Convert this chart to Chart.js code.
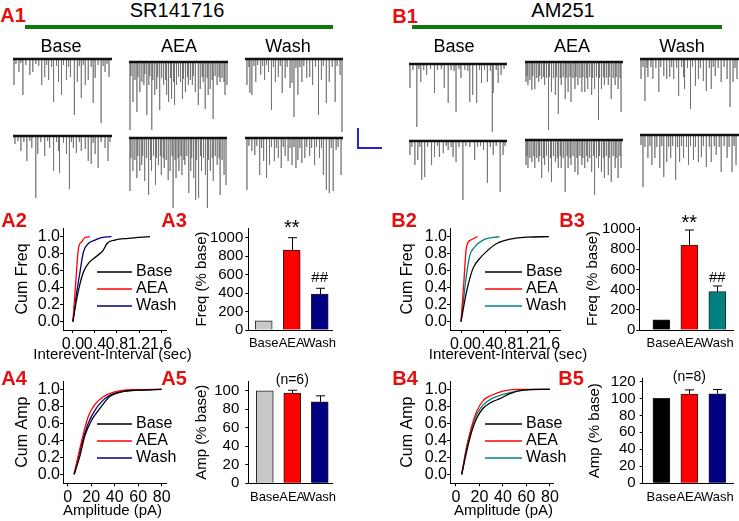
<!DOCTYPE html>
<html>
<head>
<meta charset="utf-8">
<script src="https://cdn.jsdelivr.net/npm/chart.js@4.4.1/dist/chart.umd.min.js"></script>
<style>
  body { margin: 0; background: #fff; }
  #page { position: relative; width: 739px; height: 521px; overflow: hidden; font-family: "Liberation Sans", Arial, sans-serif; }
  #page canvas { position: absolute; }
  .txt { position: absolute; white-space: nowrap; transform: translate(-50%, -50%); line-height: 1; color: #000; z-index: 2; }
  .lbl { color: #e41010; font-weight: bold; font-size: 20px; }
  .ttl { font-size: 20px; }
  .col { font-size: 18px; }
  .green { position: absolute; height: 4px; background: #0b7a0b; }
  .sbar { position: absolute; background: #2323dd; }
</style>
</head>
<body>
<div id="page">
  <div class="txt lbl" style="left:13px;top:15px">A1</div>
  <div class="txt lbl" style="left:405px;top:16px">B1</div>
  <div class="txt lbl" style="left:14px;top:220px">A2</div>
  <div class="txt lbl" style="left:174px;top:220px">A3</div>
  <div class="txt lbl" style="left:14px;top:378px">A4</div>
  <div class="txt lbl" style="left:174px;top:378px">A5</div>
  <div class="txt lbl" style="left:404px;top:220px">B2</div>
  <div class="txt lbl" style="left:572px;top:220px">B3</div>
  <div class="txt lbl" style="left:405px;top:378px">B4</div>
  <div class="txt lbl" style="left:571px;top:378px">B5</div>

  <div class="txt ttl" style="left:177px;top:10px">SR141716</div>
  <div class="txt ttl" style="left:563px;top:10px">AM251</div>
  <div class="green" style="left:25px;top:25px;width:308px"></div>
  <div class="green" style="left:412px;top:25px;width:310px"></div>

  <div class="txt col" style="left:61px;top:46px">Base</div>
  <div class="txt col" style="left:179px;top:46px">AEA</div>
  <div class="txt col" style="left:288px;top:46px">Wash</div>
  <div class="txt col" style="left:454px;top:46px">Base</div>
  <div class="txt col" style="left:572px;top:46px">AEA</div>
  <div class="txt col" style="left:682px;top:46px">Wash</div>

  <!-- scale bar -->
  <div class="sbar" style="left:357px;top:128px;width:2px;height:21px"></div>
  <div class="sbar" style="left:357px;top:147px;width:25px;height:2px"></div>
</div>

<script>
// Traces: [position in % of trace width, event amplitude in px below baseline]
const aBaseTop = [[1,26],[3,5],[6,13],[8,4],[10,36],[13,6],[17,16],[20,13],[23,5],[26,7],[29,26],[32,18],[34,6],[36,21],[39,8],[41,43],[44,7],[46,23],[49,36],[51,6],[54,21],[56,8],[58,18],[62,56],[65,23],[67,7],[69,39],[71,6],[73,26],[76,21],[79,8],[81,44],[83,19],[86,6],[89,64],[91,7],[93,13],[95,5],[97,18]];
const aAeaTop = [[1,68],[2,14],[4,40],[6,18],[8,50],[9,15],[11,30],[13,20],[15,23],[16,12],[18,53],[20,23],[21,14],[23,68],[24,18],[26,33],[28,27],[29,15],[31,48],[33,16],[35,23],[37,18],[38,33],[40,40],[42,16],[43,37],[45,20],[46,43],[48,23],[50,15],[52,20],[54,37],[55,17],[57,30],[59,15],[60,23],[62,18],[64,23],[65,14],[67,30],[70,43],[72,27],[74,15],[75,20],[77,47],[79,16],[80,33],[82,27],[84,18],[85,57],[87,14],[89,23],[91,15],[92,20],[94,16],[96,20],[97,33],[99,23]];
const aWashTop = [[2,26],[4,8],[5,34],[7,36],[9,7],[11,23],[13,6],[16,16],[18,7],[20,21],[22,6],[24,13],[27,51],[29,8],[31,23],[34,18],[36,7],[38,34],[41,19],[43,8],[46,29],[48,24],[50,58],[52,9],[54,36],[56,8],[58,23],[60,7],[63,19],[66,18],[69,26],[72,8],[75,56],[78,21],[80,7],[83,44],[86,23],[89,8],[92,43],[94,7],[97,16],[99,73]];
const aBaseBot = [[2,8],[5,5],[8,15],[11,6],[14,25],[17,5],[19,12],[23,62],[25,18],[28,6],[32,20],[35,5],[37,12],[41,35],[44,6],[46,15],[47,37],[51,7],[54,18],[57,53],[59,6],[61,12],[64,17],[67,6],[69,15],[73,13],[76,25],[79,28],[81,7],[83,18],[86,32],[89,6],[93,12],[96,25],[98,6]];
const aAeaBot = [[1,53],[2,20],[4,33],[6,22],[8,40],[9,18],[11,33],[13,27],[14,18],[16,43],[18,20],[20,57],[22,22],[23,33],[25,18],[27,47],[28,20],[30,27],[32,18],[33,37],[35,20],[36,30],[38,22],[40,42],[42,33],[44,18],[45,70],[47,22],[48,40],[50,20],[51,33],[53,18],[54,37],[56,22],[57,27],[59,18],[61,55],[63,33],[64,20],[66,40],[68,62],[69,22],[71,60],[73,18],[74,33],[76,20],[78,37],[80,70],[81,22],[83,33],[85,20],[86,43],[88,18],[90,27],[92,20],[93,57],[95,22],[97,37],[99,47]];
const aWashBot = [[2,52],[4,8],[7,13],[10,17],[12,8],[15,37],[17,10],[19,23],[22,40],[25,27],[27,9],[30,23],[32,10],[34,20],[37,30],[39,9],[41,18],[44,23],[46,10],[48,27],[50,9],[52,30],[54,22],[56,10],[58,25],[61,20],[63,9],[66,18],[68,10],[71,27],[73,9],[76,20],[78,10],[80,37],[83,52],[86,55],[88,10],[90,53],[93,12],[95,9],[98,37]];
const bBaseTop = [[1,24],[4,6],[8,63],[10,5],[12,18],[15,6],[18,11],[22,5],[26,29],[29,6],[33,5],[36,24],[40,39],[43,6],[46,7],[48,48],[51,5],[53,14],[57,6],[60,7],[62,38],[65,31],[69,39],[72,6],[74,19],[77,6],[80,18],[83,7],[85,68],[86,29],[89,6],[91,19],[94,11],[97,5]];
const bAeaTop = [[1,20],[2,14],[3,23],[5,18],[7,28],[8,14],[10,27],[12,16],[14,20],[15,14],[17,17],[19,15],[20,23],[22,16],[24,68],[25,15],[27,30],[29,16],[31,33],[32,15],[34,52],[36,16],[37,23],[39,15],[41,37],[42,16],[44,30],[46,15],[47,40],[49,16],[51,27],[52,15],[54,23],[56,16],[58,30],[59,15],[61,30],[63,16],[64,27],[66,15],[68,33],[69,16],[71,27],[73,15],[75,58],[76,16],[78,27],[80,15],[81,23],[83,16],[85,23],[86,15],[88,37],[90,16],[92,23],[93,15],[95,27],[97,16],[98,50]];
const bWashTop = [[1,20],[3,8],[5,42],[7,9],[8,18],[11,8],[13,20],[16,9],[19,33],[21,8],[24,17],[27,20],[30,18],[32,8],[34,20],[37,9],[39,37],[42,8],[44,18],[45,30],[48,9],[51,50],[53,8],[56,27],[59,20],[61,9],[64,22],[67,32],[70,9],[72,30],[74,8],[76,17],[79,9],[82,23],[85,8],[88,20],[91,48],[94,23],[96,9],[98,20]];
const bBaseBot = [[1,14],[3,6],[6,24],[9,19],[11,6],[13,39],[16,36],[19,6],[23,24],[26,16],[29,5],[31,16],[35,12],[38,5],[40,9],[43,6],[45,16],[48,21],[51,6],[55,59],[58,5],[62,6],[67,19],[70,6],[73,5],[76,9],[80,42],[83,6],[86,14],[89,5],[93,51],[96,14],[98,5]];
const bAeaBot = [[1,25],[2,16],[3,28],[5,18],[7,22],[9,16],[10,28],[12,18],[14,22],[15,16],[17,38],[19,18],[20,25],[22,16],[24,32],[26,18],[27,42],[29,16],[31,22],[33,18],[34,28],[36,16],[37,28],[39,18],[41,52],[43,16],[44,28],[46,18],[47,25],[49,16],[51,32],[53,18],[54,35],[56,16],[58,25],[59,18],[61,28],[63,16],[64,22],[66,18],[68,32],[70,16],[71,55],[73,18],[75,28],[76,16],[78,32],[80,18],[81,38],[83,16],[85,35],[86,18],[88,42],[90,16],[92,28],[93,18],[95,38],[97,16],[98,28]];
const bWashBot = [[1,10],[3,52],[5,12],[8,23],[10,11],[12,30],[15,23],[17,12],[20,33],[22,11],[24,42],[27,27],[29,12],[31,23],[33,11],[36,45],[38,12],[40,27],[42,11],[44,23],[47,12],[49,30],[51,11],[54,25],[56,12],[59,27],[62,22],[64,11],[67,32],[70,12],[72,27],[75,11],[77,20],[80,12],[82,37],[85,11],[88,23],[90,12],[93,37],[95,11],[97,30]];

// Cumulative distributions: [x, cumulative fraction]
const a2Base = [[0,0],[0.05,0.2],[0.13,0.45],[0.2,0.6],[0.3,0.7],[0.43,0.77],[0.55,0.84],[0.62,0.92],[0.76,0.96],[1.0,0.98],[1.4,1.0]];
const a2Aea = [[0,0],[0.05,0.45],[0.1,0.86],[0.16,0.94],[0.22,0.99],[0.31,1.0]];
const a2Wash = [[0,0],[0.07,0.35],[0.13,0.59],[0.19,0.82],[0.28,0.92],[0.4,0.96],[0.52,0.99],[0.7,1.0]];
const b2Base = [[0,0],[0.1,0.35],[0.22,0.63],[0.35,0.75],[0.47,0.83],[0.65,0.92],[0.89,0.97],[1.2,0.995],[1.6,1.0]];
const b2Aea = [[0,0],[0.05,0.45],[0.1,0.88],[0.18,0.96],[0.3,1.0]];
const b2Wash = [[0,0],[0.1,0.55],[0.16,0.78],[0.25,0.88],[0.4,0.96],[0.7,1.0]];
const a4Base = [[5.5,0],[10.5,0.22],[14.5,0.45],[20.5,0.64],[26,0.75],[31.5,0.85],[36,0.92],[45.5,0.97],[59,0.99],[80,1.0]];
const a4Aea = [[5.5,0],[12,0.4],[17.5,0.68],[23,0.82],[30,0.91],[40,0.97],[55,0.995],[80,1.0]];
const a4Wash = [[5.5,0],[12,0.36],[17.5,0.6],[23,0.75],[30,0.87],[36,0.93],[45.5,0.97],[60,0.99],[80,1.0]];
const b4Base = [[4.9,0],[9.1,0.27],[13.3,0.5],[17.6,0.66],[23.3,0.78],[30.4,0.85],[37.4,0.89],[46,0.95],[57.3,0.99],[80,1.0]];
const b4Aea = [[4.9,0],[9.1,0.31],[13.3,0.56],[17.6,0.74],[23.3,0.87],[30.4,0.93],[40,0.98],[51.4,1.0],[80,1.0]];
const b4Wash = [[4.9,0],[9.1,0.33],[13.3,0.54],[17.6,0.7],[23.3,0.82],[30.4,0.89],[40,0.94],[51.4,0.98],[65.5,1.0],[80,1.0]];

// Bars (% of baseline) and SEM
const barCats = ["Base", "AEA", "Wash"];
const a3Freq = [100, 867, 390];
const a3Err = [0, 133, 62];
const b3Freq = [100, 842, 380];
const b3Err = [0, 148, 56];
const a5Amp = [100, 97.5, 88];
const a5Err = [0, 3, 6.5];
const b5Amp = [100, 105, 105.5];
const b5Err = [0, 5, 5];

// Tick labels
const cumTicks = [0, 0.2, 0.4, 0.6, 0.8, 1.0];
const iviTicks = [0, 0.4, 0.8, 1.2, 1.6];
const ampTicks = [0, 20, 40, 60, 80];
const freqTicks = [0, 200, 400, 600, 800, 1000];
const a5Ticks = [0, 20, 40, 60, 80, 100];
const b5Ticks = [0, 20, 40, 60, 80, 100, 120];

Chart.defaults.font.family = '"Liberation Sans", Arial, sans-serif';
Chart.defaults.color = "#000";

const page = document.getElementById("page");
const addCanvas = (x, y, w, h) => {
  const c = document.createElement("canvas");
  c.width = w;
  c.height = h;
  c.style.left = x + "px";
  c.style.top = y + "px";
  c.style.width = w + "px";
  c.style.height = h + "px";
  page.appendChild(c);
  return c;
};

// one chart per trace, baseline on top of the spikes
const traceChart = (ev, x0, x1, base) => {
  const spikes = [];
  ev.forEach(([p, a]) => spikes.push({ x: p, y: 0 }, { x: p, y: -a }, { x: p, y: null }));
  new Chart(addCanvas(x0, base - 6, x1 - x0, 80), {
    type: "line",
    data: {
      datasets: [
        { data: [{ x: 0, y: 0 }, { x: 100, y: 0 }], borderColor: "#111", borderWidth: 2.5, pointRadius: 0, order: 1 },
        { data: spikes, borderColor: "rgba(90,90,90,0.6)", borderWidth: 0.8, pointRadius: 0, spanGaps: false, order: 2 },
      ],
    },
    options: {
      responsive: false, animation: false, events: [],
      plugins: { legend: { display: false }, tooltip: { enabled: false } },
      scales: {
        x: { type: "linear", display: false, min: 0, max: 100 },
        y: { display: false, min: -74, max: 6 },
      },
    },
  });
};

traceChart(aBaseTop, 13, 112, 59);
traceChart(aAeaTop, 129, 228, 62);
traceChart(aWashTop, 245, 343, 59);
traceChart(aBaseBot, 13, 112, 136);
traceChart(aAeaBot, 129, 227, 138);
traceChart(aWashBot, 245, 343, 138);
traceChart(bBaseTop, 409, 507, 64);
traceChart(bAeaTop, 525, 623, 62);
traceChart(bWashTop, 640, 739, 59);
traceChart(bBaseBot, 409, 507, 141);
traceChart(bAeaBot, 525, 623, 140);
traceChart(bWashBot, 640, 739, 135);

// legend drawn inside the plot area, x-axis title drawn without width limit
const legendIn = {
  id: "legendIn",
  afterDatasetsDraw(chart, args, o) {
    const { ctx, chartArea: a } = chart;
    ctx.save();
    ctx.font = '16px "Liberation Sans", Arial, sans-serif';
    ctx.textBaseline = "middle";
    chart.data.datasets.forEach((ds, i) => {
      const y = a.top + o.top + i * o.gap;
      const x = a.left + o.left;
      ctx.strokeStyle = ds.borderColor;
      ctx.lineWidth = 1.5;
      ctx.beginPath();
      ctx.moveTo(x, y);
      ctx.lineTo(x + o.len, y);
      ctx.stroke();
      ctx.fillStyle = "#000";
      ctx.fillText(ds.label, x + o.len + 4, y);
    });
    ctx.font = '15px "Liberation Sans", Arial, sans-serif';
    ctx.textAlign = "center";
    ctx.fillText(o.xTitle, (a.left + a.right) / 2 + o.tdx, a.bottom + o.tdy);
    ctx.restore();
  },
};

// error bars + significance marks
const errBars = {
  id: "errBars",
  afterDatasetsDraw(chart, args, o) {
    const { ctx, chartArea: a, scales: { x, y } } = chart;
    const pts = chart.data.datasets[0].data;
    ctx.save();
    ctx.strokeStyle = "#000";
    ctx.lineWidth = 1;
    pts.forEach((p, i) => {
      const e = o.err[i];
      if (!e) return;
      const px = Math.round(x.getPixelForValue(p.x)) + 0.5;
      const top = y.getPixelForValue(p.y + e);
      ctx.beginPath();
      ctx.moveTo(px, y.getPixelForValue(p.y));
      ctx.lineTo(px, top);
      ctx.moveTo(px - 4.5, top);
      ctx.lineTo(px + 4.5, top);
      ctx.stroke();
    });
    ctx.fillStyle = "#000";
    ctx.textAlign = "center";
    ctx.textBaseline = "middle";
    (o.marks || []).forEach((m) => {
      ctx.font = m.size + 'px "Liberation Sans", Arial, sans-serif';
      const p = pts[m.i];
      ctx.fillText(m.text, x.getPixelForValue(p.x), y.getPixelForValue(p.y + o.err[m.i]) - m.dy);
    });
    if (o.n) {
      ctx.font = '14px "Liberation Sans", Arial, sans-serif';
      ctx.fillText(o.n, x.getPixelForValue(2), a.top - 1);
    }
    ctx.restore();
  },
};

const axisStyle = (size) => ({
  grid: { display: true, drawOnChartArea: false, drawTicks: true, tickLength: 3, color: "#000" },
  border: { display: true, color: "#000", width: 1 },
  ticks: { autoSkip: false, maxRotation: 0, font: { size: size }, color: "#000" },
});

// cumulative probability plot
const cumChart = (c) => {
  const x = axisStyle(16);
  x.type = "linear";
  x.min = c.xMin;
  x.max = c.xMax;
  x.offset = false;
  x.afterBuildTicks = (s) => { s.ticks = c.xTicks.map((v) => ({ value: v })); };
  x.afterFit = (s) => { s.height = c.box.y + c.box.h - c.area.b; };
  x.ticks.padding = 2;
  x.ticks.callback = c.xFmt;
  const y = axisStyle(16);
  y.min = c.yMin;
  y.max = c.yMax;
  y.afterBuildTicks = (s) => { s.ticks = cumTicks.map((v) => ({ value: v })); };
  y.afterFit = (s) => { s.width = c.area.l - c.box.x; };
  y.ticks.padding = 0;
  y.ticks.callback = (v) => v.toFixed(1);
  y.title = { display: true, text: c.yTitle, font: { size: 16 }, color: "#000", padding: { top: c.yPad, bottom: 0 } };
  new Chart(addCanvas(c.box.x, c.box.y, c.box.w, c.box.h), {
    type: "line",
    data: {
      datasets: c.series.map((s, i) => ({
        label: barCats[i],
        data: s.map(([a, b]) => ({ x: a, y: b })),
        borderColor: c.colors[i],
        borderWidth: 1.3,
        pointRadius: 0,
        cubicInterpolationMode: "monotone",
      })),
    },
    options: {
      responsive: false, animation: false, events: [],
      layout: { padding: { top: c.area.t - c.box.y, right: c.box.x + c.box.w - c.area.r, left: 0, bottom: 0 } },
      plugins: { legend: { display: false }, tooltip: { enabled: false }, legendIn: c.legend },
      scales: { x: x, y: y },
    },
    plugins: [legendIn],
  });
};

// bar plot with linear x so bar spacing can follow the figure
const barChart = (c) => {
  const x = axisStyle(13);
  x.type = "linear";
  x.min = c.xMin;
  x.max = c.xMax;
  x.offset = false;
  x.grid.display = false;
  x.grid.offset = false;
  x.afterBuildTicks = (s) => { s.ticks = [1, 2, 3].map((v) => ({ value: v })); };
  x.afterFit = (s) => { s.height = c.box.y + c.box.h - c.area.b; };
  x.ticks.padding = 3;
  x.ticks.callback = (v) => barCats[v - 1];
  const y = axisStyle(15);
  y.min = 0;
  y.max = c.yMax;
  y.afterBuildTicks = (s) => { s.ticks = c.yTicks.map((v) => ({ value: v })); };
  y.afterFit = (s) => { s.width = c.area.l - c.box.x; };
  y.ticks.padding = c.tickPad;
  y.ticks.callback = (v) => String(v);
  y.title = { display: true, text: c.yTitle, font: { size: 15 }, color: "#000", padding: { top: c.yPad, bottom: 0 } };
  new Chart(addCanvas(c.box.x, c.box.y, c.box.w, c.box.h), {
    type: "bar",
    data: {
      datasets: [{
        data: c.values.map((v, i) => ({ x: i + 1, y: v })),
        backgroundColor: c.colors,
        borderColor: "#222",
        borderWidth: 1,
        barThickness: 17,
      }],
    },
    options: {
      responsive: false, animation: false, events: [],
      layout: { padding: { top: c.area.t - c.box.y, right: c.box.x + c.box.w - c.area.r, left: 0, bottom: 0 } },
      plugins: { legend: { display: false }, tooltip: { enabled: false }, errBars: { err: c.err, marks: c.marks, n: c.n } },
      scales: { x: x, y: y },
    },
    plugins: [errBars],
  });
};

const fmt1 = (v) => v.toFixed(1);
const fmt0 = (v) => String(v);

cumChart({
  box: { x: 8, y: 212, w: 190, h: 158 }, area: { l: 63, t: 228, r: 166, b: 330 },
  xMin: -0.18, xMax: 1.69, yMin: -0.098, yMax: 1.102, xTicks: iviTicks, xFmt: fmt1,
  yTitle: "Cum Freq", yPad: 5,
  series: [a2Base, a2Aea, a2Wash], colors: ["#000", "#ff0000", "#000080"],
  legend: { left: 34, top: 44, gap: 17, len: 35, xTitle: "Interevent-Interval (sec)", tdx: -2, tdy: 25 },
});
cumChart({
  box: { x: 395, y: 212, w: 195, h: 158 }, area: { l: 450, t: 228, r: 560, b: 330 },
  xMin: -0.2, xMax: 1.8, yMin: -0.098, yMax: 1.102, xTicks: iviTicks, xFmt: fmt1,
  yTitle: "Cum Freq", yPad: 3,
  series: [b2Base, b2Aea, b2Wash], colors: ["#000", "#ff0000", "#008080"],
  legend: { left: 35, top: 44, gap: 17, len: 37, xTitle: "Interevent-Interval (sec)", tdx: 3, tdy: 25 },
});
cumChart({
  box: { x: 8, y: 365, w: 175, h: 156 }, area: { l: 63, t: 381, r: 166, b: 483.3 },
  xMin: -4, xMax: 83.7, yMin: -0.106, yMax: 1.098, xTicks: ampTicks, xFmt: fmt0,
  yTitle: "Cum Amp", yPad: 5,
  series: [a4Base, a4Aea, a4Wash], colors: ["#000", "#ff0000", "#000080"],
  legend: { left: 34, top: 43, gap: 17, len: 35, xTitle: "Amplitude (pA)", tdx: -2, tdy: 28 },
});
cumChart({
  box: { x: 395, y: 365, w: 175, h: 156 }, area: { l: 450, t: 381, r: 553, b: 483.3 },
  xMin: -5.1, xMax: 82.6, yMin: -0.106, yMax: 1.098, xTicks: ampTicks, xFmt: fmt0,
  yTitle: "Cum Amp", yPad: 3,
  series: [b4Base, b4Aea, b4Wash], colors: ["#000", "#ff0000", "#008080"],
  legend: { left: 35, top: 43, gap: 17, len: 37, xTitle: "Amplitude (pA)", tdx: 2, tdy: 28 },
});

barChart({
  box: { x: 186, y: 210, w: 154, h: 140 }, area: { l: 248.3, t: 228, r: 334, b: 330 },
  xMin: 0.45, xMax: 3.46, yMax: 1105, yTicks: freqTicks, tickPad: 2, yTitle: "Freq (% base)", yPad: 7,
  values: a3Freq, err: a3Err, colors: ["#c8c8c8", "#ff0000", "#000080"],
  marks: [{ i: 1, text: "**", size: 20, dy: 9 }, { i: 2, text: "##", size: 15, dy: 10 }],
});
barChart({
  box: { x: 578, y: 208, w: 161, h: 142 }, area: { l: 639.3, t: 227, r: 733, b: 330 },
  xMin: 0.21, xMax: 3.56, yMax: 1020, yTicks: freqTicks, tickPad: 1, yTitle: "Freq (% base)", yPad: 6,
  values: b3Freq, err: b3Err, colors: ["#000000", "#ff0000", "#008080"],
  marks: [{ i: 1, text: "**", size: 20, dy: 7 }, { i: 2, text: "##", size: 15, dy: 8 }],
});
barChart({
  box: { x: 186, y: 363, w: 154, h: 140 }, area: { l: 248.3, t: 381, r: 334, b: 483.3 },
  xMin: 0.40, xMax: 3.46, yMax: 110.5, yTicks: a5Ticks, tickPad: 6, yTitle: "Amp (% base)", yPad: 7,
  values: a5Amp, err: a5Err, colors: ["#c8c8c8", "#ff0000", "#000080"], n: "(n=6)",
});
barChart({
  box: { x: 580, y: 363, w: 159, h: 140 }, area: { l: 642.7, t: 378, r: 733, b: 483.3 },
  xMin: 0.33, xMax: 3.56, yMax: 124, yTicks: b5Ticks, tickPad: 4, yTitle: "Amp (% base)", yPad: 6,
  values: b5Amp, err: b5Err, colors: ["#000000", "#ff0000", "#000080"], n: "(n=8)",
});
</script>
</body>
</html>
